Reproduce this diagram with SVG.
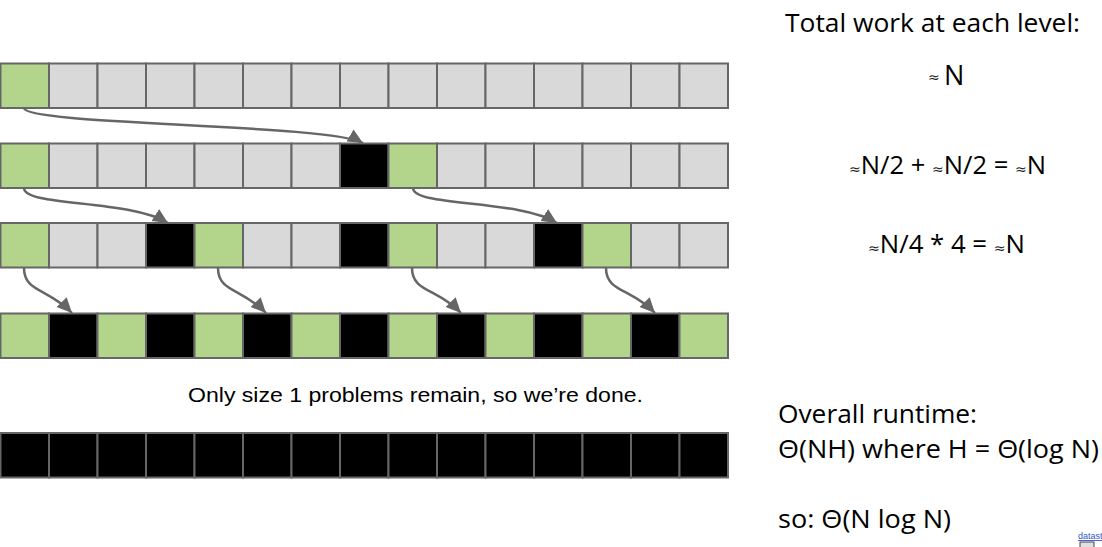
<svg xmlns="http://www.w3.org/2000/svg" width="1102" height="547" viewBox="0 0 1102 547">
<style>
  .c { stroke: #666666; stroke-width: 2; }
  .g { fill: #b3d48b; }
  .l { fill: #d9d9d9; }
  .b { fill: #000000; }
  .arr { fill: none; stroke: #666666; stroke-width: 2.5; marker-end: url(#ah); }
  .cal { font-family: "Open Sans", Lato, sans-serif; fill: #000; }
  .ar { font-family: "Liberation Sans", Arial, sans-serif; fill: #000; }
  .ap { font-family: "DejaVu Sans", sans-serif; font-size: 14px; fill: #222; }
</style>
<defs>
  <marker id="ah" markerUnits="userSpaceOnUse" markerWidth="18" markerHeight="16" refX="15" refY="7" orient="auto">
    <path d="M0,0 L15,7 L0,14 Z" fill="#666666"/>
  </marker>
</defs>
<rect width="1102" height="547" fill="#ffffff"/>

<g id="row1">
  <rect class="c g" x="0.5" y="63.5" width="48.5" height="44.5"/>
  <rect class="c l" x="49" y="63.5" width="48.5" height="44.5"/>
  <rect class="c l" x="97.5" y="63.5" width="48.5" height="44.5"/>
  <rect class="c l" x="146" y="63.5" width="48.5" height="44.5"/>
  <rect class="c l" x="194.5" y="63.5" width="48.5" height="44.5"/>
  <rect class="c l" x="243" y="63.5" width="48.5" height="44.5"/>
  <rect class="c l" x="291.5" y="63.5" width="48.5" height="44.5"/>
  <rect class="c l" x="340" y="63.5" width="48.5" height="44.5"/>
  <rect class="c l" x="388.5" y="63.5" width="48.5" height="44.5"/>
  <rect class="c l" x="437" y="63.5" width="48.5" height="44.5"/>
  <rect class="c l" x="485.5" y="63.5" width="48.5" height="44.5"/>
  <rect class="c l" x="534" y="63.5" width="48.5" height="44.5"/>
  <rect class="c l" x="582.5" y="63.5" width="48.5" height="44.5"/>
  <rect class="c l" x="631" y="63.5" width="48.5" height="44.5"/>
  <rect class="c l" x="679.5" y="63.5" width="48.5" height="44.5"/>
</g>

<g id="row2">
  <rect class="c g" x="0.5" y="143.5" width="48.5" height="44.5"/>
  <rect class="c l" x="49" y="143.5" width="48.5" height="44.5"/>
  <rect class="c l" x="97.5" y="143.5" width="48.5" height="44.5"/>
  <rect class="c l" x="146" y="143.5" width="48.5" height="44.5"/>
  <rect class="c l" x="194.5" y="143.5" width="48.5" height="44.5"/>
  <rect class="c l" x="243" y="143.5" width="48.5" height="44.5"/>
  <rect class="c l" x="291.5" y="143.5" width="48.5" height="44.5"/>
  <rect class="c b" x="340" y="143.5" width="48.5" height="44.5"/>
  <rect class="c g" x="388.5" y="143.5" width="48.5" height="44.5"/>
  <rect class="c l" x="437" y="143.5" width="48.5" height="44.5"/>
  <rect class="c l" x="485.5" y="143.5" width="48.5" height="44.5"/>
  <rect class="c l" x="534" y="143.5" width="48.5" height="44.5"/>
  <rect class="c l" x="582.5" y="143.5" width="48.5" height="44.5"/>
  <rect class="c l" x="631" y="143.5" width="48.5" height="44.5"/>
  <rect class="c l" x="679.5" y="143.5" width="48.5" height="44.5"/>
</g>

<g id="row3">
  <rect class="c g" x="0.5" y="223" width="48.5" height="44.5"/>
  <rect class="c l" x="49" y="223" width="48.5" height="44.5"/>
  <rect class="c l" x="97.5" y="223" width="48.5" height="44.5"/>
  <rect class="c b" x="146" y="223" width="48.5" height="44.5"/>
  <rect class="c g" x="194.5" y="223" width="48.5" height="44.5"/>
  <rect class="c l" x="243" y="223" width="48.5" height="44.5"/>
  <rect class="c l" x="291.5" y="223" width="48.5" height="44.5"/>
  <rect class="c b" x="340" y="223" width="48.5" height="44.5"/>
  <rect class="c g" x="388.5" y="223" width="48.5" height="44.5"/>
  <rect class="c l" x="437" y="223" width="48.5" height="44.5"/>
  <rect class="c l" x="485.5" y="223" width="48.5" height="44.5"/>
  <rect class="c b" x="534" y="223" width="48.5" height="44.5"/>
  <rect class="c g" x="582.5" y="223" width="48.5" height="44.5"/>
  <rect class="c l" x="631" y="223" width="48.5" height="44.5"/>
  <rect class="c l" x="679.5" y="223" width="48.5" height="44.5"/>
</g>

<g id="row4">
  <rect class="c g" x="0.5" y="313.5" width="48.5" height="44.5"/>
  <rect class="c b" x="49" y="313.5" width="48.5" height="44.5"/>
  <rect class="c g" x="97.5" y="313.5" width="48.5" height="44.5"/>
  <rect class="c b" x="146" y="313.5" width="48.5" height="44.5"/>
  <rect class="c g" x="194.5" y="313.5" width="48.5" height="44.5"/>
  <rect class="c b" x="243" y="313.5" width="48.5" height="44.5"/>
  <rect class="c g" x="291.5" y="313.5" width="48.5" height="44.5"/>
  <rect class="c b" x="340" y="313.5" width="48.5" height="44.5"/>
  <rect class="c g" x="388.5" y="313.5" width="48.5" height="44.5"/>
  <rect class="c b" x="437" y="313.5" width="48.5" height="44.5"/>
  <rect class="c g" x="485.5" y="313.5" width="48.5" height="44.5"/>
  <rect class="c b" x="534" y="313.5" width="48.5" height="44.5"/>
  <rect class="c g" x="582.5" y="313.5" width="48.5" height="44.5"/>
  <rect class="c b" x="631" y="313.5" width="48.5" height="44.5"/>
  <rect class="c g" x="679.5" y="313.5" width="48.5" height="44.5"/>
</g>

<g id="row5">
  <rect class="c b" x="0.5" y="433" width="48.5" height="44.5"/>
  <rect class="c b" x="49" y="433" width="48.5" height="44.5"/>
  <rect class="c b" x="97.5" y="433" width="48.5" height="44.5"/>
  <rect class="c b" x="146" y="433" width="48.5" height="44.5"/>
  <rect class="c b" x="194.5" y="433" width="48.5" height="44.5"/>
  <rect class="c b" x="243" y="433" width="48.5" height="44.5"/>
  <rect class="c b" x="291.5" y="433" width="48.5" height="44.5"/>
  <rect class="c b" x="340" y="433" width="48.5" height="44.5"/>
  <rect class="c b" x="388.5" y="433" width="48.5" height="44.5"/>
  <rect class="c b" x="437" y="433" width="48.5" height="44.5"/>
  <rect class="c b" x="485.5" y="433" width="48.5" height="44.5"/>
  <rect class="c b" x="534" y="433" width="48.5" height="44.5"/>
  <rect class="c b" x="582.5" y="433" width="48.5" height="44.5"/>
  <rect class="c b" x="631" y="433" width="48.5" height="44.5"/>
  <rect class="c b" x="679.5" y="433" width="48.5" height="44.5"/>
</g>

<g id="connectors">
  <path class="arr" d="M24,108 C24,125 330,124 363,143"/>
  <path class="arr" d="M24,188 C24,207 130,199 168,223"/>
  <path class="arr" d="M413,188 C413,207 519,199 557,223"/>
  <path class="arr" d="M24,268 C24,292 48,288 72,313"/>
  <path class="arr" d="M218,268 C218,292 242,288 266,313"/>
  <path class="arr" d="M412,268 C412,292 437,288 461,313"/>
  <path class="arr" d="M606,268 C606,292 631,288 655,313"/>
</g>

<g id="caption">
  <text class="ar" x="188" y="402" font-size="19.5" textLength="455" lengthAdjust="spacingAndGlyphs">Only size 1 problems remain, so we’re done.</text>
</g>

<g id="work">
  <text class="cal" x="785" y="32" font-size="25.5" textLength="295" lengthAdjust="spacingAndGlyphs">Total work at each level:</text>
  <text class="cal" x="928" y="85" font-size="27"><tspan class="ap" y="82">≈</tspan><tspan x="944" y="85">N</tspan></text>
  <text class="cal" x="849" y="174" font-size="25.5" textLength="197" lengthAdjust="spacingAndGlyphs"><tspan class="ap">≈</tspan>N/2 + <tspan class="ap">≈</tspan>N/2 = <tspan class="ap">≈</tspan>N</text>
  <text class="cal" x="868" y="253" font-size="25.5" textLength="157" lengthAdjust="spacingAndGlyphs"><tspan class="ap">≈</tspan>N/4 * 4 = <tspan class="ap">≈</tspan>N</text>
</g>

<g id="runtime">
  <text class="cal" x="778" y="423" font-size="25.5" textLength="199" lengthAdjust="spacingAndGlyphs">Overall runtime:</text>
  <text class="cal" x="778" y="458" font-size="25.5" textLength="321" lengthAdjust="spacingAndGlyphs">Θ(NH) where H = Θ(log N)</text>
  <text class="cal" x="778" y="528" font-size="25.5" textLength="173" lengthAdjust="spacingAndGlyphs">so: Θ(N log N)</text>
</g>

<g id="corner">
  <text x="1078" y="539" font-family="Liberation Sans, sans-serif" font-size="9" fill="#3355cc" text-decoration="underline">datast</text>
  <rect x="1080" y="542" width="14" height="8" fill="#e0e0e0" stroke="#444444" stroke-width="1"/>
</g>
</svg>
